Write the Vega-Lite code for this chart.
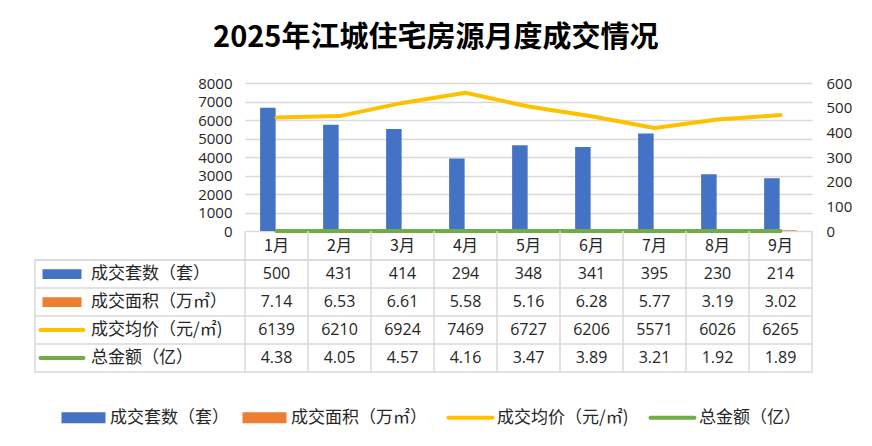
{
  "$schema": "https://vega.github.io/schema/vega-lite/v6.json",
  "background": "white",
  "padding": {"left": 31, "top": 24, "right": 10, "bottom": 10},
  "title": {"text": "2025年江城住宅房源月度成交情况", "font": "Noto Sans CJK SC", "fontSize": 29, "fontWeight": "bold", "color": "#000000", "anchor": "middle", "offset": 23, "dx": -6},
  "config": {
    "view": {"stroke": null}
  },
  "datasets": {
    "d": [
      {"month": "1月", "series": "成交套数（套）", "value": 500},
      {"month": "2月", "series": "成交套数（套）", "value": 431},
      {"month": "3月", "series": "成交套数（套）", "value": 414},
      {"month": "4月", "series": "成交套数（套）", "value": 294},
      {"month": "5月", "series": "成交套数（套）", "value": 348},
      {"month": "6月", "series": "成交套数（套）", "value": 341},
      {"month": "7月", "series": "成交套数（套）", "value": 395},
      {"month": "8月", "series": "成交套数（套）", "value": 230},
      {"month": "9月", "series": "成交套数（套）", "value": 214},
      {"month": "1月", "series": "成交面积（万㎡）", "value": 7.14},
      {"month": "2月", "series": "成交面积（万㎡）", "value": 6.53},
      {"month": "3月", "series": "成交面积（万㎡）", "value": 6.61},
      {"month": "4月", "series": "成交面积（万㎡）", "value": 5.58},
      {"month": "5月", "series": "成交面积（万㎡）", "value": 5.16},
      {"month": "6月", "series": "成交面积（万㎡）", "value": 6.28},
      {"month": "7月", "series": "成交面积（万㎡）", "value": 5.77},
      {"month": "8月", "series": "成交面积（万㎡）", "value": 3.19},
      {"month": "9月", "series": "成交面积（万㎡）", "value": 3.02},
      {"month": "1月", "series": "成交均价（元/㎡)", "value": 6139},
      {"month": "2月", "series": "成交均价（元/㎡)", "value": 6210},
      {"month": "3月", "series": "成交均价（元/㎡)", "value": 6924},
      {"month": "4月", "series": "成交均价（元/㎡)", "value": 7469},
      {"month": "5月", "series": "成交均价（元/㎡)", "value": 6727},
      {"month": "6月", "series": "成交均价（元/㎡)", "value": 6206},
      {"month": "7月", "series": "成交均价（元/㎡)", "value": 5571},
      {"month": "8月", "series": "成交均价（元/㎡)", "value": 6026},
      {"month": "9月", "series": "成交均价（元/㎡)", "value": 6265},
      {"month": "1月", "series": "总金额（亿）", "value": 4.38},
      {"month": "2月", "series": "总金额（亿）", "value": 4.05},
      {"month": "3月", "series": "总金额（亿）", "value": 4.57},
      {"month": "4月", "series": "总金额（亿）", "value": 4.16},
      {"month": "5月", "series": "总金额（亿）", "value": 3.47},
      {"month": "6月", "series": "总金额（亿）", "value": 3.89},
      {"month": "7月", "series": "总金额（亿）", "value": 3.21},
      {"month": "8月", "series": "总金额（亿）", "value": 1.92},
      {"month": "9月", "series": "总金额（亿）", "value": 1.89}
    ]
  },
  "spacing": 0,
  "bounds": "flush",
  "vconcat": [
    {
      "width": 777,
      "height": 148,
      "data": {"name": "d"},
      "layer": [
        {
          "transform": [{"filter": {"field": "series", "oneOf": ["成交套数（套）", "成交面积（万㎡）"]}}],
          "mark": {"type": "bar"},
          "encoding": {
            "x": {"field": "month", "type": "ordinal", "sort": ["1月", "2月", "3月", "4月", "5月", "6月", "7月", "8月", "9月"], "scale": {"range": [210, 777], "paddingInner": 0.48, "paddingOuter": 0.24}, "axis": null},
            "xOffset": {"field": "series", "type": "nominal", "sort": ["成交套数（套）", "成交面积（万㎡）"], "scale": {"paddingInner": 0.1, "paddingOuter": 0}},
            "y": {"field": "value", "type": "quantitative", "scale": {"domain": [0, 600], "nice": false, "zero": true},
              "axis": {"orient": "right", "title": null, "values": [0, 100, 200, 300, 400, 500, 600], "format": "d", "grid": false, "domain": false, "ticks": false, "labelPadding": 14, "labelFont": "Open Sans", "labelFontSize": 15, "labelColor": "#262626"}},
            "color": {"field": "series", "type": "nominal",
              "scale": {"domain": ["成交套数（套）", "成交面积（万㎡）", "成交均价（元/㎡)", "总金额（亿）"], "range": ["#4472C4", "#ED7D31", "#FFC000", "#70AD47"]},
              "legend": {
                "orient": "none", "legendX": 40, "legendY": 326, "direction": "horizontal", "title": null,
                "labelFont": "Noto Sans CJK SC", "labelFontSize": 17, "labelColor": "#262626",
                "symbolSize": 1936, "labelOffset": 18, "columnPadding": 13, "labelLimit": 300,
                "encode": {
                  "symbols": {
                    "update": {
                      "shape": {"signal": "(datum.value === '成交套数（套）' || datum.value === '成交面积（万㎡）') ? 'M-1,-0.25H1V0.25H-1Z' : 'stroke'"},
                      "fill": {"scale": "color", "field": "value"},
                      "stroke": {"scale": "color", "field": "value"},
                      "strokeWidth": {"signal": "(datum.value === '成交套数（套）' || datum.value === '成交面积（万㎡）') ? 0 : 4"},
                      "strokeCap": {"value": "round"},
                      "opacity": {"value": 1}
                    }
                  }
                }
              }
            }
          }
        },
        {
          "transform": [{"filter": {"field": "series", "oneOf": ["成交均价（元/㎡)", "总金额（亿）"]}}],
          "mark": {"type": "line", "strokeWidth": 4, "strokeCap": "round", "strokeJoin": "round"},
          "encoding": {
            "x": {"field": "month", "type": "ordinal", "sort": ["1月", "2月", "3月", "4月", "5月", "6月", "7月", "8月", "9月"]},
            "y": {"field": "value", "type": "quantitative", "scale": {"domain": [0, 8000], "nice": false, "zero": true},
              "axis": {"orient": "left", "offset": -210, "title": null, "values": [0, 1000, 2000, 3000, 4000, 5000, 6000, 7000, 8000], "format": "d", "grid": true, "gridColor": "#D9D9D9", "gridWidth": 1.3, "domain": false, "ticks": false, "labelPadding": 13, "labelFont": "Open Sans", "labelFontSize": 15, "labelColor": "#262626"}},
            "color": {"field": "series", "type": "nominal", "scale": {"domain": ["成交套数（套）", "成交面积（万㎡）", "成交均价（元/㎡)", "总金额（亿）"], "range": ["#4472C4", "#ED7D31", "#FFC000", "#70AD47"]}}
          }
        }
      ],
      "resolve": {"scale": {"y": "independent"}}
    },
    {
      "width": 777,
      "height": 29,
      "data": {"name": "d"},
      "transform": [{"filter": "datum.series === '成交套数（套）'"}],
      "layer": [
        {
          "mark": {"type": "rule", "color": "#D9D9D9", "strokeWidth": 1.5},
          "encoding": {
            "x": {"field": "month", "type": "ordinal", "sort": ["1月", "2月", "3月", "4月", "5月", "6月", "7月", "8月", "9月"], "bandPosition": 0, "scale": {"range": [210, 777], "paddingInner": 0, "paddingOuter": 0}, "axis": null}
          }
        },
        {
          "transform": [{"filter": "datum.month === '9月'"}],
          "mark": {"type": "rule", "color": "#D9D9D9", "strokeWidth": 1.5},
          "encoding": {
            "x": {"field": "month", "type": "ordinal", "sort": ["1月", "2月", "3月", "4月", "5月", "6月", "7月", "8月", "9月"], "bandPosition": 1}
          }
        },
        {
          "mark": {"type": "text", "baseline": "middle", "font": "Noto Sans CJK SC", "fontSize": 16, "color": "#262626"},
          "encoding": {
            "x": {"field": "month", "type": "ordinal", "sort": ["1月", "2月", "3月", "4月", "5月", "6月", "7月", "8月", "9月"]},
            "text": {"field": "month", "type": "nominal"}
          }
        }
      ]
    },
    {
      "width": 777,
      "height": 112,
      "view": {"stroke": "#D9D9D9", "strokeWidth": 1.5},
      "data": {"name": "d"},
      "layer": [
        {
          "transform": [{"filter": "datum.series === '成交套数（套）'"}],
          "mark": {"type": "rule", "color": "#D9D9D9", "strokeWidth": 1.5},
          "encoding": {
            "x": {"field": "month", "type": "ordinal", "sort": ["1月", "2月", "3月", "4月", "5月", "6月", "7月", "8月", "9月"], "bandPosition": 0, "scale": {"range": [210, 777], "paddingInner": 0, "paddingOuter": 0}, "axis": null}
          }
        },
        {
          "transform": [{"filter": "datum.month === '1月'"}],
          "mark": {"type": "rule", "color": "#D9D9D9", "strokeWidth": 1.5},
          "encoding": {
            "y": {"field": "series", "type": "nominal", "bandPosition": 0, "scale": {"domain": ["成交套数（套）", "成交面积（万㎡）", "成交均价（元/㎡)", "总金额（亿）"], "paddingInner": 0, "paddingOuter": 0}, "axis": null}
          }
        },
        {
          "mark": {"type": "text", "baseline": "middle", "font": "Open Sans", "fontSize": 16, "color": "#262626"},
          "encoding": {
            "x": {"field": "month", "type": "ordinal", "sort": ["1月", "2月", "3月", "4月", "5月", "6月", "7月", "8月", "9月"], "scale": {"range": [210, 777], "paddingInner": 0, "paddingOuter": 0}, "axis": null},
            "y": {"field": "series", "type": "nominal"},
            "text": {"field": "value", "type": "nominal"}
          }
        },
        {
          "transform": [{"filter": "datum.month === '1月' && datum.series === '成交套数（套）'"}],
          "mark": {"type": "point", "shape": "M-1,-0.25H1V0.25H-1Z", "size": 1521, "filled": true, "opacity": 1, "color": "#4472C4"},
          "encoding": {
            "x": {"datum": "key", "type": "nominal", "scale": {"type": "point", "domain": ["key", "name"], "range": [27, 57], "padding": 0}, "axis": null},
            "y": {"field": "series", "type": "nominal"}
          }
        },
        {
          "transform": [{"filter": "datum.month === '1月' && datum.series === '成交面积（万㎡）'"}],
          "mark": {"type": "point", "shape": "M-1,-0.25H1V0.25H-1Z", "size": 1521, "filled": true, "opacity": 1, "color": "#ED7D31"},
          "encoding": {
            "x": {"datum": "key", "type": "nominal", "scale": {"type": "point", "domain": ["key", "name"], "range": [27, 57], "padding": 0}, "axis": null},
            "y": {"field": "series", "type": "nominal"}
          }
        },
        {
          "transform": [{"filter": "datum.month === '1月' && datum.series === '成交均价（元/㎡)'"}],
          "mark": {"type": "point", "shape": "M-1,0H1", "size": 1849, "filled": false, "strokeWidth": 4, "strokeCap": "round", "opacity": 1, "color": "#FFC000"},
          "encoding": {
            "x": {"datum": "key", "type": "nominal", "scale": {"type": "point", "domain": ["key", "name"], "range": [27, 57], "padding": 0}, "axis": null},
            "y": {"field": "series", "type": "nominal"}
          }
        },
        {
          "transform": [{"filter": "datum.month === '1月' && datum.series === '总金额（亿）'"}],
          "mark": {"type": "point", "shape": "M-1,0H1", "size": 1849, "filled": false, "strokeWidth": 4, "strokeCap": "round", "opacity": 1, "color": "#70AD47"},
          "encoding": {
            "x": {"datum": "key", "type": "nominal", "scale": {"type": "point", "domain": ["key", "name"], "range": [27, 57], "padding": 0}, "axis": null},
            "y": {"field": "series", "type": "nominal"}
          }
        },
        {
          "transform": [{"filter": "datum.month === '1月'"}],
          "mark": {"type": "text", "align": "left", "baseline": "middle", "font": "Noto Sans CJK SC", "fontSize": 17, "color": "#262626"},
          "encoding": {
            "x": {"datum": "name", "type": "nominal", "scale": {"type": "point", "domain": ["key", "name"], "range": [27, 56], "padding": 0}, "axis": null},
            "y": {"field": "series", "type": "nominal"},
            "text": {"field": "series", "type": "nominal"}
          }
        }
      ],
      "resolve": {"scale": {"x": "independent"}}
    }
  ]
}
